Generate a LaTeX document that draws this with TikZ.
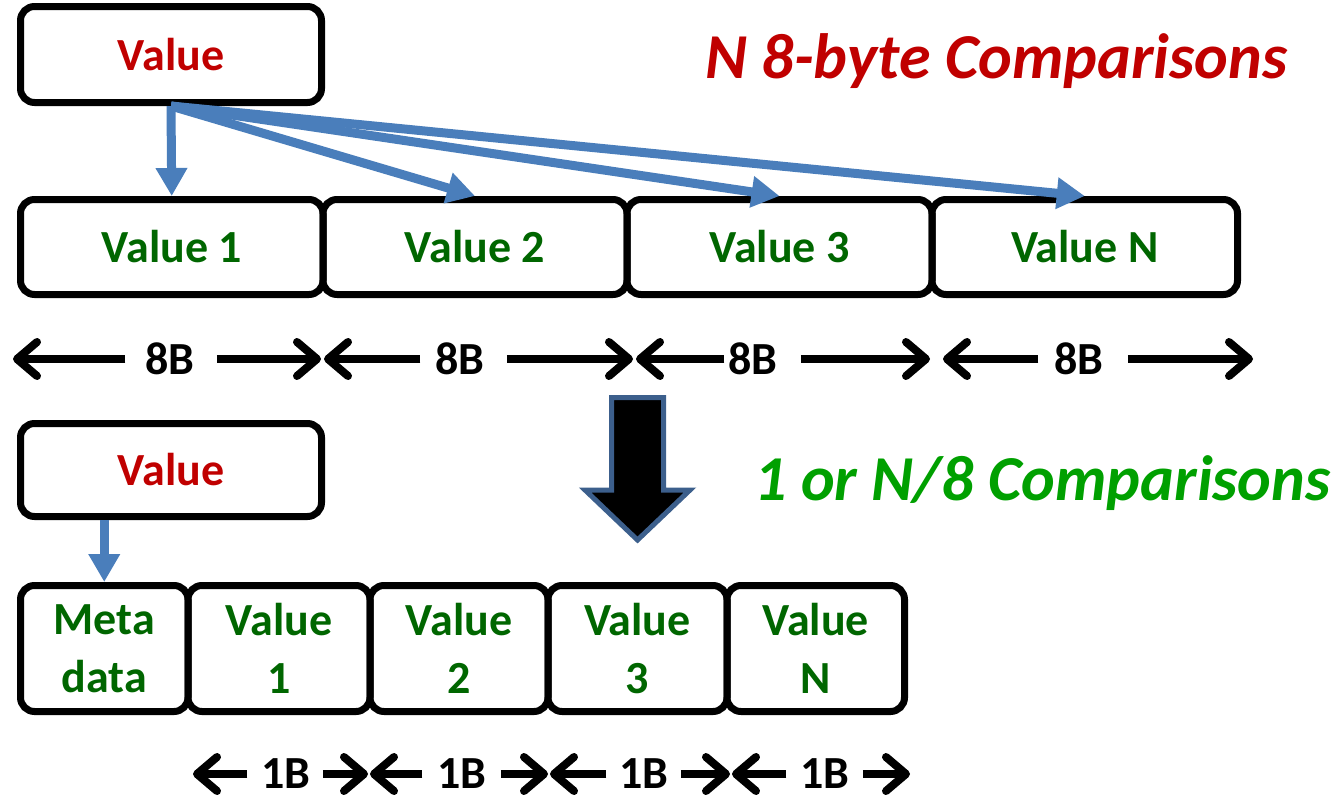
\documentclass[tikz,border=0pt]{standalone}
\usepackage{fontspec}
\setmainfont{Carlito}
\usetikzlibrary{arrows.meta}

\definecolor{valred}{HTML}{C00000}
\definecolor{valgreen}{HTML}{006600}
\definecolor{hdgreen}{HTML}{00A000}
\definecolor{ptrblue}{HTML}{4A7EBB}
\definecolor{bigedge}{HTML}{3C5F8C}

\tikzset{
  cell/.style={draw=black, line width=7pt, rounded corners=14pt, inner sep=0pt,
    font=\fontsize{46}{58}\selectfont\bfseries, text=valgreen, align=center},
  keycell/.style={cell, text=valred, minimum width=301pt},
  heading/.style={anchor=base west, inner sep=0pt,
    font=\fontsize{64}{70}\selectfont\bfseries\itshape},
  sizelbl/.style={inner sep=0pt, font=\fontsize{46}{50}\selectfont\bfseries},
  dimarr/.style={line width=8pt, shorten <=#1,
    -{Straight Barb[length=20pt, width=34pt, round]}},
  ptr/.style={draw=ptrblue, line width=9pt,
    -{Triangle[length=28pt, width=30pt]}},
}

\begin{document}
\begin{tikzpicture}[x=1pt, y=-1pt]
\useasboundingbox (0,0) rectangle (1339,795);

% ---- 8-byte layout ----
\node[keycell, minimum height=96pt] (vt) at (171,54.5) {Value};
\node[heading, text=valred] (h8) at (705,78) {N 8-byte Comparisons};

\node[cell, minimum width=302.5pt, minimum height=95pt] (v1) at (171.75,247) {Value 1};
\node[cell, minimum width=304pt,   minimum height=95pt] (v2) at (475,247)    {Value 2};
\node[cell, minimum width=305pt,   minimum height=95pt] (v3) at (779.5,247)  {Value 3};
\node[cell, minimum width=305.5pt, minimum height=95pt] (vN) at (1084.75,247) {Value N};

\draw[ptr] (vt.south) -- (v1.north);
\draw[ptr] (vt.south) -- (v2.north);
\draw[ptr] (vt.south) -- (v3.north);
\draw[ptr] (vt.south) -- (vN.north);

% size markers under the 8-byte slots
\node[sizelbl] (e1) at (170,359)  {8B};
\node[sizelbl] (e2) at (460,359)  {8B};
\node[sizelbl] (e3) at (753,359)  {8B};
\node[sizelbl] (e4) at (1079,359) {8B};
\coordinate (e1l) at (13,359);   \coordinate (e1r) at (321,359);
\coordinate (e2l) at (324,359);  \coordinate (e2r) at (633,359);
\coordinate (e3l) at (636,359);  \coordinate (e3r) at (930,359);
\coordinate (e4l) at (943,359);  \coordinate (e4r) at (1253,359);
\draw[dimarr=20pt] (e1.west) -- (e1l);  \draw[dimarr=22pt] (e1.east) -- (e1r);
\draw[dimarr=15pt] (e2.west) -- (e2l);  \draw[dimarr=22pt] (e2.east) -- (e2r);
\draw[dimarr=4pt]  (e3.west) -- (e3l);  \draw[dimarr=23pt] (e3.east) -- (e3r);
\draw[dimarr=16pt] (e4.west) -- (e4l);  \draw[dimarr=24pt] (e4.east) -- (e4r);

% ---- transition arrow ----
\filldraw[fill=black, draw=bigedge, line width=5pt]
  (611.5,397.5) -- (663.5,397.5) -- (663.5,490) -- (690,490)
  -- (637.5,540) -- (585,490) -- (611.5,490) -- cycle;

% ---- 1-byte layout ----
\node[keycell, minimum height=93pt] (vb) at (171,470) {Value};
\node[heading, text=hdgreen] (h1) at (754,500) {1 or N/8 Comparisons};

\node[cell, minimum width=167.5pt, minimum height=126pt] (md) at (104.25,648.5) {Meta\\data};
\node[cell, minimum width=182pt,   minimum height=126pt] (b1) at (279,648.5)    {Value\\1};
\node[cell, minimum width=178pt,   minimum height=126pt] (b2) at (459,648.5)    {Value\\2};
\node[cell, minimum width=179pt,   minimum height=126pt] (b3) at (637.5,648.5)  {Value\\3};
\node[cell, minimum width=177.5pt, minimum height=126pt] (bN) at (815.75,648.5) {Value\\N};

\draw[ptr] (vb.south -| md.north) -- (md.north);

% size markers under the 1-byte slots
\node[sizelbl] (s1) at (286,774) {1B};
\node[sizelbl] (s2) at (462,774) {1B};
\node[sizelbl] (s3) at (644,774) {1B};
\node[sizelbl] (s4) at (825,774) {1B};
\coordinate (s1l) at (193,774);  \coordinate (s1r) at (368,774);
\coordinate (s2l) at (370,774);  \coordinate (s2r) at (548,774);
\coordinate (s3l) at (550,774);  \coordinate (s3r) at (730,774);
\coordinate (s4l) at (732,774);  \coordinate (s4r) at (910,774);
\draw[dimarr=14pt] (s1.west) -- (s1l);  \draw[dimarr=12pt] (s1.east) -- (s1r);
\draw[dimarr=15pt] (s2.west) -- (s2l);  \draw[dimarr=14pt] (s2.east) -- (s2r);
\draw[dimarr=13pt] (s3.west) -- (s3l);  \draw[dimarr=12pt] (s3.east) -- (s3r);
\draw[dimarr=14pt] (s4.west) -- (s4l);  \draw[dimarr=13pt] (s4.east) -- (s4r);
\end{tikzpicture}
\end{document}
